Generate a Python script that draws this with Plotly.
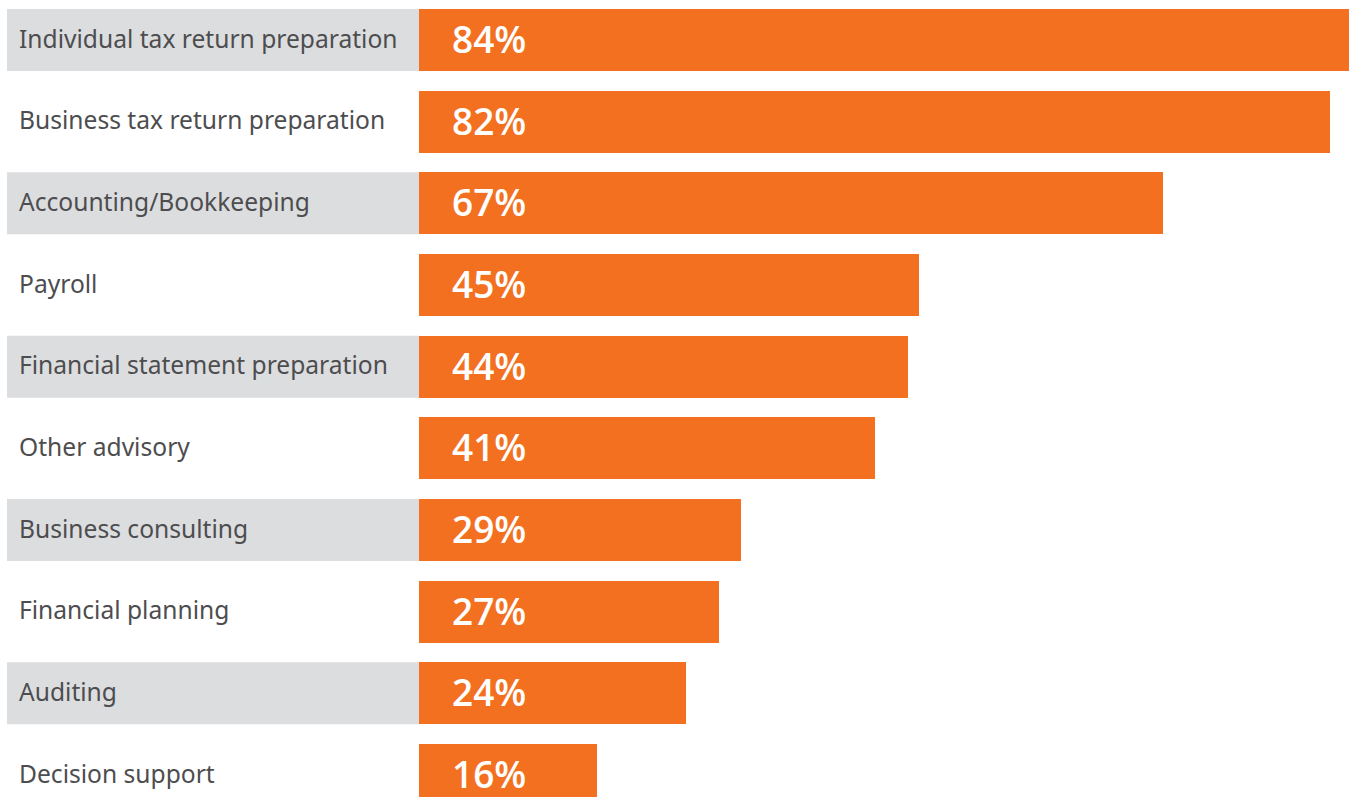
import plotly.graph_objects as go

# Share of firms offering each service (%)
services = [
    "Individual tax return preparation",
    "Business tax return preparation",
    "Accounting/Bookkeeping",
    "Payroll",
    "Financial statement preparation",
    "Other advisory",
    "Business consulting",
    "Financial planning",
    "Auditing",
    "Decision support",
]
shares = [84, 82, 67, 45, 44, 41, 29, 27, 24, 16]

W, H = 1349, 797
ORANGE = "#F37021"
BAND = "#DCDDDF"
TEXT = "#4D4D4F"

BAR_LEFT = 419          # px where the value axis starts
PX_PER_PCT = 11.11      # horizontal scale
PITCH = 81.67           # row spacing in px
FIRST_CENTER = 40       # centre of the first row in px
BAR_H = 62

rows = list(range(len(services)))

fig = go.Figure(
    go.Bar(
        x=shares,
        y=rows,
        orientation="h",
        marker=dict(color=ORANGE, line=dict(width=0)),
        width=BAR_H / PITCH,
        hoverinfo="skip",
    )
)

x_max = (W - BAR_LEFT) / PX_PER_PCT
y_top = -FIRST_CENTER / PITCH
y_bottom = (H - FIRST_CENTER) / PITCH

shapes = []
annotations = []
for i, (name, val) in enumerate(zip(services, shares)):
    if i % 2 == 0:
        shapes.append(dict(
            type="rect", xref="paper", yref="y", layer="below",
            x0=7 / W, x1=BAR_LEFT / W,
            y0=i - BAR_H / PITCH / 2, y1=i + BAR_H / PITCH / 2,
            fillcolor=BAND, line=dict(width=0),
        ))
    annotations.append(dict(
        xref="paper", yref="y", x=18 / W, y=i, xanchor="left", yanchor="middle",
        text=name, showarrow=False, borderpad=0, yshift=2,
        font=dict(family="Noto Sans", size=24.6, color=TEXT),
    ))
    annotations.append(dict(
        xref="paper", yref="y", x=(BAR_LEFT + 32) / W, y=i,
        xanchor="left", yanchor="middle", height=40, valign="middle",
        text=f"{val}%", showarrow=False, borderpad=0, yshift=2,
        font=dict(family="Open Sans", size=37, color="white", weight=600),
    ))

fig.update_layout(
    width=W, height=H,
    margin=dict(l=0, r=0, t=0, b=0),
    paper_bgcolor="white", plot_bgcolor="white",
    showlegend=False,
    bargap=0,
    xaxis=dict(domain=[BAR_LEFT / W, 1], range=[0, x_max], visible=False, fixedrange=True),
    yaxis=dict(range=[y_bottom, y_top], visible=False, fixedrange=True),
    shapes=shapes,
    annotations=annotations,
)

fig.write_html("out.html", config={"displayModeBar": False})
